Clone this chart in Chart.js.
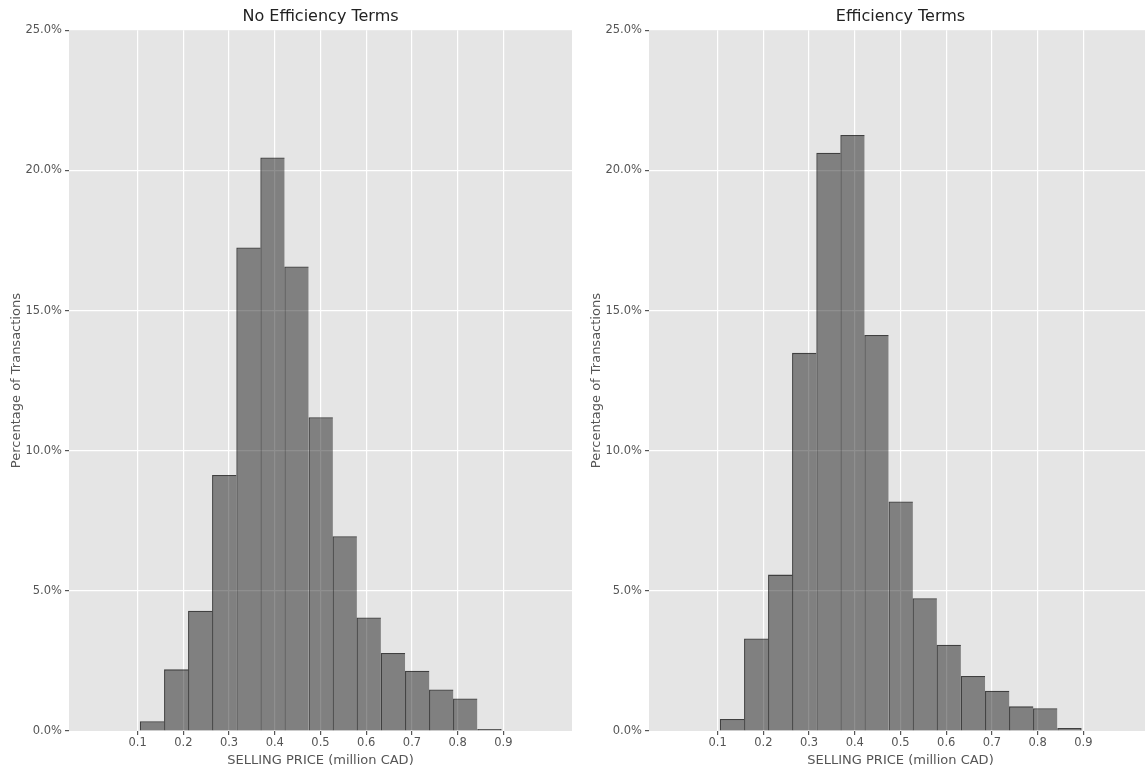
<!DOCTYPE html>
<html>
<head>
<meta charset="utf-8">
<script src="https://cdn.jsdelivr.net/npm/chart.js@4/dist/chart.umd.min.js"></script>
<style>
  body { margin: 0; background: #fff; overflow: hidden; }
  #wrap { position: relative; width: 1145px; height: 769px; overflow: hidden; }
  canvas { position: absolute; top: 0; }
</style>
</head>
<body>
<div id="wrap">
  <canvas id="left" width="580" height="769" style="left:0px"></canvas>
  <canvas id="right" width="580" height="769" style="left:580px"></canvas>
</div>
<script>
// histogram bin edges (million CAD), same for both panels
const binEdges = [0.105, 0.158, 0.211, 0.263, 0.316, 0.369, 0.421, 0.474, 0.527,
  0.579, 0.632, 0.685, 0.738, 0.790, 0.843, 0.896];

// percentage of transactions per bin
const noEfficiency = [0.35, 2.2, 4.29, 9.13, 17.25, 20.46, 16.57, 11.19, 6.95,
  4.05, 2.78, 2.15, 1.48, 1.16, 0.07];
const withEfficiency = [0.43, 3.3, 5.58, 13.49, 20.63, 21.26, 14.13, 8.19, 4.74,
  3.08, 1.96, 1.44, 0.88, 0.81, 0.11];

const xTicks = [0.1, 0.2, 0.3, 0.4, 0.5, 0.6, 0.7, 0.8, 0.9];
const yTicks = [0, 5, 10, 15, 20, 25];

const FONT = 'DejaVu Sans';

const plotBg = {
  id: 'plotBg',
  beforeDraw(chart) {
    const { ctx, chartArea: a } = chart;
    ctx.save();
    ctx.fillStyle = '#E5E5E5';
    ctx.fillRect(a.left, a.top, a.right - a.left, a.bottom - a.top);
    ctx.restore();
  }
};

const histData = (values) => values.map((v, i) => ({
  x: (binEdges[i] + binEdges[i + 1]) / 2,
  y: v
}));

// hide the white grid line sitting on the plot border
const gridColor = (ctx) => {
  const n = ctx.scale.ticks.length;
  return (ctx.index === 0 || ctx.index === n - 1)
    ? 'rgba(255,255,255,0)' : '#FFFFFF';
};

// one shared edge between neighbouring bins, like a matplotlib histogram
const edgeWidth = (ctx) => ({
  top: 1.3,
  left: 1.3,
  bottom: 0,
  right: ctx.dataIndex === ctx.dataset.data.length - 1 ? 1.3 : 0
});

const makeChart = (id, title, values) => {
  new Chart(document.getElementById(id), {
    type: 'bar',
    data: {
      datasets: [{
        data: histData(values),
        backgroundColor: 'rgba(0,0,0,0.44)',
        borderColor: 'rgba(0,0,0,0.72)',
        borderWidth: edgeWidth,
        borderSkipped: false,
        barPercentage: 1.015,
        categoryPercentage: 1
      }]
    },
    options: {
      responsive: false,
      animation: false,
      layout: { padding: { left: 0, right: 8, top: 0, bottom: 0 } },
      plugins: {
        legend: { display: false },
        tooltip: { enabled: false },
        title: {
          display: true,
          fullSize: false,
          text: title,
          color: '#222',
          font: { family: FONT, size: 16, weight: 'normal' },
          padding: { top: 7, bottom: 4 }
        }
      },
      scales: {
        x: {
          type: 'linear',
          min: -0.05,
          max: 1.05,
          offset: false,
          afterBuildTicks: (scale) => { scale.ticks = xTicks.map(v => ({ value: v })); },
          afterFit: (scale) => { scale.height = 38; },
          border: { display: false },
          grid: { offset: false, color: '#FFFFFF', lineWidth: 1.2, tickColor: '#555', tickLength: 4 },
          ticks: {
            autoSkip: false,
            maxRotation: 0,
            padding: 1,
            color: '#555',
            font: { family: FONT, size: 11.5 },
            callback: (v) => v.toFixed(1)
          },
          title: {
            display: true,
            text: 'SELLING PRICE (million CAD)',
            color: '#555',
            font: { family: FONT, size: 13 },
            padding: { top: 0, bottom: 1 }
          }
        },
        y: {
          min: 0,
          max: 25,
          afterBuildTicks: (scale) => { scale.ticks = yTicks.map(v => ({ value: v })); },
          afterFit: (scale) => { scale.width = 69; },
          border: { display: false },
          grid: { color: gridColor, lineWidth: 1.2, tickColor: '#555', tickLength: 4 },
          ticks: {
            padding: 3,
            color: '#555',
            font: { family: FONT, size: 11.5 },
            callback: (v) => v.toFixed(1) + '%'
          },
          title: {
            display: true,
            text: 'Percentage of Transactions',
            color: '#555',
            font: { family: FONT, size: 13 },
            padding: { top: 9, bottom: 0 }
          }
        }
      }
    },
    plugins: [plotBg]
  });
};

makeChart('left', 'No Efficiency Terms', noEfficiency);
makeChart('right', 'Efficiency Terms', withEfficiency);
</script>
</body>
</html>
